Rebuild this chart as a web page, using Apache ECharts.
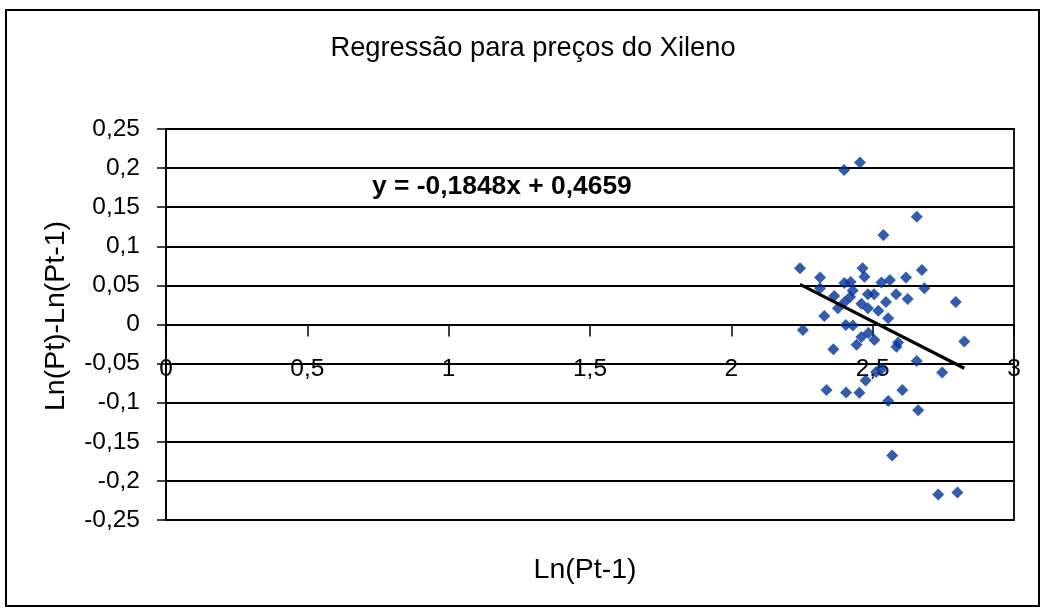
<!DOCTYPE html>
<html>
<head>
<meta charset="utf-8">
<script src="https://cdn.jsdelivr.net/npm/echarts@6/dist/echarts.min.js"></script>
<style>
  html, body { margin: 0; padding: 0; background: #fff; }
  #chart { width: 1045px; height: 610px; }
</style>
</head>
<body>
<div id="chart"></div>
<script>
// Ln(Pt-1) values
const xValues = [
  2.399, 2.455, 2.656, 2.538, 2.243, 2.464, 2.674, 2.314, 2.471, 2.618,
  2.314, 2.400, 2.422, 2.531, 2.561, 2.683, 2.429, 2.364, 2.420, 2.483,
  2.505, 2.583, 2.624, 2.794, 2.400, 2.460, 2.547, 2.377, 2.483, 2.520,
  2.329, 2.555, 2.253, 2.405, 2.430, 2.485, 2.460, 2.506, 2.824, 2.443,
  2.590, 2.584, 2.361, 2.656, 2.746, 2.532, 2.512, 2.475, 2.337, 2.406,
  2.453, 2.605, 2.555, 2.661, 2.569, 2.732, 2.800
];
// Ln(Pt)-Ln(Pt-1) values
const yValues = [
  0.1976, 0.2072, 0.1379, 0.1145, 0.0719, 0.0719, 0.0697, 0.0601, 0.0611, 0.0601,
  0.0463, 0.0531, 0.0543, 0.0537, 0.0569, 0.0463, 0.0435, 0.0364, 0.0352, 0.0386,
  0.0386, 0.0386, 0.0326, 0.0288, 0.0284, 0.0265, 0.0288, 0.0207, 0.0207, 0.0176,
  0.0109, 0.0079, -0.0070, -0.0006, -0.0013, -0.0109, -0.0160, -0.0198, -0.0217, -0.0258,
  -0.0230, -0.0284, -0.0317, -0.0467, -0.0614, -0.0569, -0.0607, -0.0716, -0.0838, -0.0870,
  -0.0872, -0.0838, -0.0978, -0.1097, -0.1675, -0.2174, -0.2148
];

// Linear trend coefficients
const slope = -0.1848;
const intercept = 0.4659;

const xTicks = [0, 0.5, 1, 1.5, 2, 2.5, 3];
const xTickLabels = ['0', '0,5', '1', '1,5', '2', '2,5', '3'];
const yTicks = [-0.25, -0.2, -0.15, -0.1, -0.05, 0, 0.05, 0.1, 0.15, 0.2, 0.25];
const yTickLabels = ['-0,25', '-0,2', '-0,15', '-0,1', '-0,05', '0', '0,05', '0,1', '0,15', '0,2', '0,25'];

const titleText = 'Regressão para preços do Xileno';
const xAxisTitle = 'Ln(Pt-1)';
const yAxisTitle = 'Ln(Pt)-Ln(Pt-1)';

function tickLabel(ticks, labels, v) {
  for (let i = 0; i < ticks.length; i++) {
    if (Math.abs(ticks[i] - v) < 1e-9) return labels[i];
  }
  return '';
}

const points = xValues.map((x, i) => [x, yValues[i]]);
const xMin = Math.min(...xValues);
const xMax = Math.max(...xValues);
const trend = [[xMin, slope * xMin + intercept], [xMax, slope * xMax + intercept]];

const fmt = v => v.toFixed(4).replace('.', ',');
const equationText = 'y = ' + fmt(slope) + 'x + ' + fmt(intercept);

const FONT = '"Liberation Sans", Arial, sans-serif';

// plot box
const GRID = { left: 166, right: 31, top: 129, bottom: 90 };
const plotHeight = 610 - GRID.top - GRID.bottom;
const yMin = -0.25, yMax = 0.25;
// the horizontal axis crosses at y = 0: shift it up from the bottom edge
const xAxisOffset = -plotHeight * (0 - yMin) / (yMax - yMin);

const chart = echarts.init(document.getElementById('chart'), null, { renderer: 'canvas' });
chart.setOption({
  animation: false,
  backgroundColor: '#fff',
  grid: Object.assign({
    show: true, borderColor: '#000', borderWidth: 1.8, backgroundColor: 'transparent'
  }, GRID),
  xAxis: {
    type: 'value', min: 0, max: 3, interval: 0.5,
    position: 'bottom', offset: xAxisOffset,
    axisLine: { show: true, onZero: false, lineStyle: { color: '#000', width: 1.8 } },
    axisTick: { show: true, inside: false, length: 12, lineStyle: { color: '#000', width: 1.5 } },
    axisLabel: {
      margin: 32, color: '#000', fontFamily: FONT, fontSize: 24.5,
      showMinLabel: true, showMaxLabel: true,
      formatter: v => tickLabel(xTicks, xTickLabels, v)
    },
    splitLine: { show: false }
  },
  yAxis: {
    type: 'value', min: yMin, max: yMax, interval: 0.05,
    axisLine: { show: true, onZero: false, lineStyle: { color: '#000', width: 1.8 } },
    axisTick: { show: true, inside: false, length: 9, lineStyle: { color: '#000', width: 1.5 } },
    axisLabel: {
      margin: 26, color: '#000', fontFamily: FONT, fontSize: 24.5,
      showMinLabel: true, showMaxLabel: true,
      formatter: v => tickLabel(yTicks, yTickLabels, v)
    },
    splitLine: { show: true, lineStyle: { color: '#000', width: 1.8 } }
  },
  series: [
    {
      type: 'scatter',
      data: points,
      symbol: 'diamond',
      symbolSize: 12,
      itemStyle: { color: '#003399' },
      z: 3
    },
    {
      type: 'line',
      data: trend,
      symbol: 'none',
      lineStyle: { color: '#000', width: 3.2 },
      z: 4
    }
  ],
  graphic: [
    {
      type: 'rect', silent: true, z: -1,
      shape: { x: 6, y: 10, width: 1033, height: 596 },
      style: { fill: 'none', stroke: '#000', lineWidth: 2 }
    },
    {
      type: 'text', x: 533, y: 48,
      style: { text: titleText, font: '27.3px ' + FONT, fill: '#000', textAlign: 'center', textVerticalAlign: 'middle' }
    },
    {
      type: 'text', x: 372, y: 187,
      style: { text: equationText, font: 'bold 26.4px ' + FONT, fill: '#000', textAlign: 'left', textVerticalAlign: 'middle' }
    },
    {
      type: 'text', x: 585, y: 570,
      style: { text: xAxisTitle, font: '28.5px ' + FONT, fill: '#000', textAlign: 'center', textVerticalAlign: 'middle' }
    },
    {
      type: 'text', x: 56, y: 316, rotation: Math.PI / 2,
      style: { text: yAxisTitle, font: '28.5px ' + FONT, fill: '#000', textAlign: 'center', textVerticalAlign: 'middle' }
    }
  ]
});
</script>
</body>
</html>
